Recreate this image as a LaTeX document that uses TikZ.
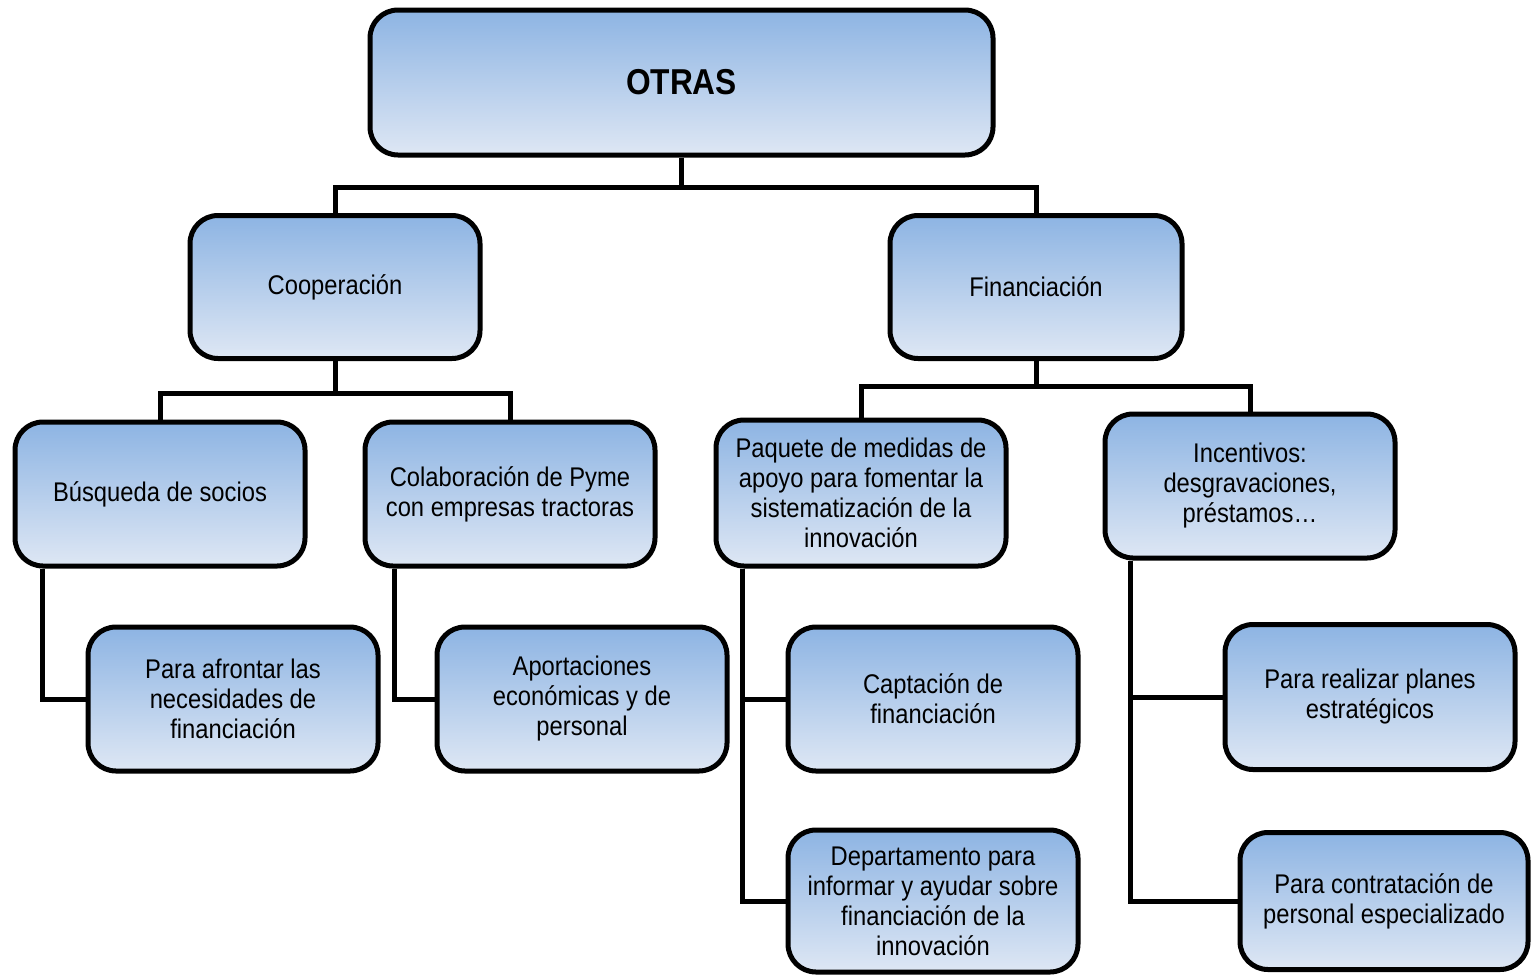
\documentclass[tikz,border=0pt]{standalone}
\usepackage{fontspec}
\setmainfont{Liberation Sans}[FakeStretch=0.88]
\definecolor{boxtop}{RGB}{141,180,227}
\definecolor{boxbot}{RGB}{222,231,244}
\begin{document}
\begin{tikzpicture}[x=1pt,y=-1pt,
  box/.style={draw=black, line width=5pt, rounded corners=28pt,
    top color=boxtop, bottom color=boxbot, align=center, inner sep=0pt,
    minimum width=290pt, minimum height=144pt,
    font=\fontsize{27}{30}\selectfont},
  conn/.style={draw=black, line width=5pt}]
\useasboundingbox (0,0) rectangle (1531,975);
\node[box, minimum width=623pt, minimum height=145pt, font=\bfseries\fontsize{36}{40}\selectfont] (otras) at (681.5,82.5) {OTRAS};
\node[box, minimum height=143pt] (coop) at (335,287) {Cooperación};
\node[box, minimum width=292pt, minimum height=143pt] (fin) at (1036,287) {Financiación};
\node[box] (bus) at (160,494) {Búsqueda de socios};
\node[box] (col) at (510,494) {Colaboración de Pyme\\con empresas tractoras};
\node[box, minimum height=146pt] (paq) at (861,493) {Paquete de medidas de\\apoyo para fomentar la\\sistematización de la\\innovación};
\node[box] (inc) at (1250,486) {Incentivos:\\desgravaciones,\\préstamos…};
\node[box] (afr) at (233,699) {Para afrontar las\\necesidades de\\financiación};
\node[box] (apo) at (582,699) {Aportaciones\\económicas y de\\personal};
\node[box] (cap) at (933,699) {Captación de\\financiación};
\node[box, minimum height=142pt] (dep) at (933,901) {Departamento para\\informar y ayudar sobre\\financiación de la\\innovación};
\node[box, minimum height=145pt] (rea) at (1370,697) {Para realizar planes\\estratégicos};
\node[box, minimum width=288pt, minimum height=137pt] (con) at (1384,901) {Para contratación de\\personal especializado};
\draw[conn] (otras.south) -- ++(0,30) -| (coop.north);
\draw[conn] (otras.south) -- ++(0,30) -| (fin.north);
\draw[conn] (coop.south) -- ++(0,32) -| (bus.north);
\draw[conn] (coop.south) -- ++(0,32) -| (col.north);
\draw[conn] (fin.south) -- ++(0,25) -| (paq.north);
\draw[conn] (fin.south) -- ++(0,25) -| (inc.north);
\draw[conn] ([xshift=30pt]bus.south west) |- (afr.west);
\draw[conn] ([xshift=32pt]col.south west) |- (apo.west);
\draw[conn] ([xshift=29pt]paq.south west) |- (cap.west);
\draw[conn] ([xshift=29pt]paq.south west) |- (dep.west);
\draw[conn] ([xshift=28pt]inc.south west) |- (rea.west);
\draw[conn] ([xshift=28pt]inc.south west) |- (con.west);
\end{tikzpicture}
\end{document}
